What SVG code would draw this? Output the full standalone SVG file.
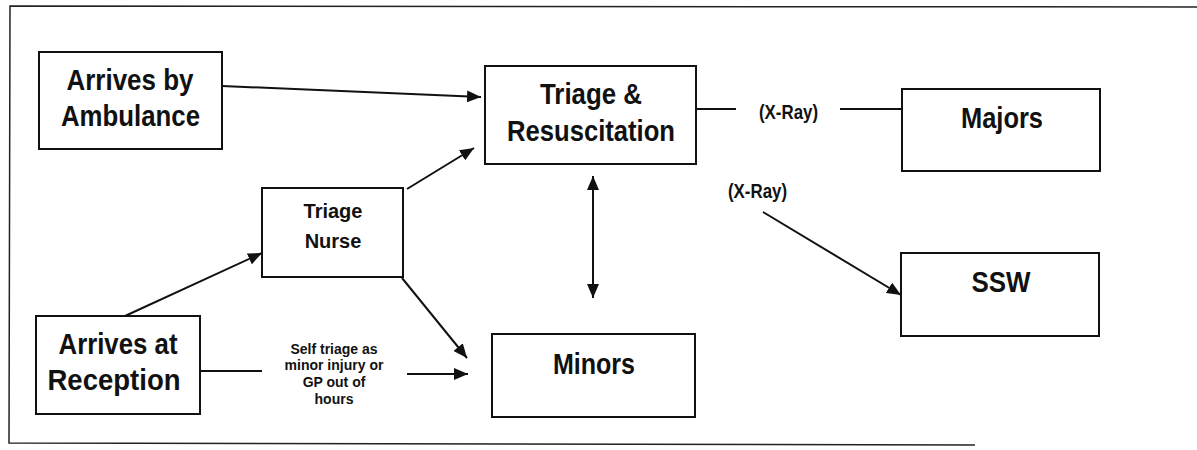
<svg xmlns="http://www.w3.org/2000/svg" width="1197" height="450" viewBox="0 0 1197 450">
<style>
.box{fill:#fff;stroke:#111;stroke-width:2}
.big{font-family:"Liberation Sans",Arial,sans-serif;font-weight:bold;font-size:30px;fill:#111;text-anchor:middle}
.mid{font-family:"Liberation Sans",Arial,sans-serif;font-weight:bold;font-size:20px;fill:#111;text-anchor:middle}
.sm{font-family:"Liberation Sans",Arial,sans-serif;font-weight:bold;font-size:14px;fill:#111;text-anchor:middle}
.ln{stroke:#111;stroke-width:2;fill:none}
.frame{stroke:#222;stroke-width:1.5;fill:none}
</style>
<defs>
<marker id="ah" viewBox="0 0 14 12" refX="14" refY="6" markerWidth="14" markerHeight="12" markerUnits="userSpaceOnUse" orient="auto-start-reverse">
<path d="M0,0 L14,6 L0,12 z" fill="#111"/>
</marker>
</defs>
<rect width="1197" height="450" fill="#fff"/>
<path class="frame" d="M975,445 L9,443 L10,6 L1197,7"/>
<g id="connectors">
<line class="ln" x1="222" y1="86" x2="481" y2="97" marker-end="url(#ah)"/>
<line class="ln" x1="407" y1="189" x2="474" y2="148" marker-end="url(#ah)"/>
<line class="ln" x1="125" y1="316" x2="262" y2="253" marker-end="url(#ah)"/>
<line class="ln" x1="402" y1="278" x2="467" y2="358" marker-end="url(#ah)"/>
<line class="ln" x1="200" y1="371" x2="262" y2="371"/>
<line class="ln" x1="407" y1="374" x2="468" y2="374" marker-end="url(#ah)"/>
<line class="ln" x1="593" y1="176" x2="593" y2="298" marker-start="url(#ah)" marker-end="url(#ah)"/>
<line class="ln" x1="696" y1="109" x2="736" y2="109"/>
<line class="ln" x1="840" y1="109" x2="902" y2="109"/>
<line class="ln" x1="763" y1="212" x2="901" y2="295" marker-end="url(#ah)"/>
<text class="mid" x="788.5" y="119" textLength="59" lengthAdjust="spacingAndGlyphs">(X-Ray)</text>
<text class="mid" x="757.5" y="198" textLength="59" lengthAdjust="spacingAndGlyphs">(X-Ray)</text>
<text class="sm" x="334" y="354">Self triage as</text>
<text class="sm" x="334" y="370">minor injury or</text>
<text class="sm" x="334" y="387">GP out of</text>
<text class="sm" x="334" y="404">hours</text>
</g>
<g id="ambulance">
<rect class="box" x="39" y="52" width="183" height="97"/>
<text class="big" x="130" y="90" textLength="127" lengthAdjust="spacingAndGlyphs">Arrives by</text>
<text class="big" x="130.5" y="126" textLength="139" lengthAdjust="spacingAndGlyphs">Ambulance</text>
</g>
<g id="triage-resus">
<rect class="box" x="485" y="66" width="211" height="98"/>
<text class="big" x="591" y="104" textLength="102" lengthAdjust="spacingAndGlyphs">Triage &amp;</text>
<text class="big" x="591" y="141" textLength="168" lengthAdjust="spacingAndGlyphs">Resuscitation</text>
</g>
<g id="majors">
<rect class="box" x="902" y="89" width="198" height="82"/>
<text class="big" x="1002" y="128" textLength="82" lengthAdjust="spacingAndGlyphs">Majors</text>
</g>
<g id="ssw">
<rect class="box" x="901" y="253" width="198" height="83"/>
<text class="big" x="1001" y="292" textLength="59" lengthAdjust="spacingAndGlyphs">SSW</text>
</g>
<g id="triage-nurse">
<rect class="box" x="262" y="188" width="141" height="89"/>
<text class="mid" x="333" y="218">Triage</text>
<text class="mid" x="333" y="248">Nurse</text>
</g>
<g id="reception">
<rect class="box" x="36" y="316" width="164" height="98"/>
<text class="big" x="118" y="354" textLength="119" lengthAdjust="spacingAndGlyphs">Arrives at</text>
<text class="big" x="114" y="390" textLength="133" lengthAdjust="spacingAndGlyphs">Reception</text>
</g>
<g id="minors">
<rect class="box" x="492" y="334" width="203" height="83"/>
<text class="big" x="594" y="374" textLength="82" lengthAdjust="spacingAndGlyphs">Minors</text>
</g>
</svg>
